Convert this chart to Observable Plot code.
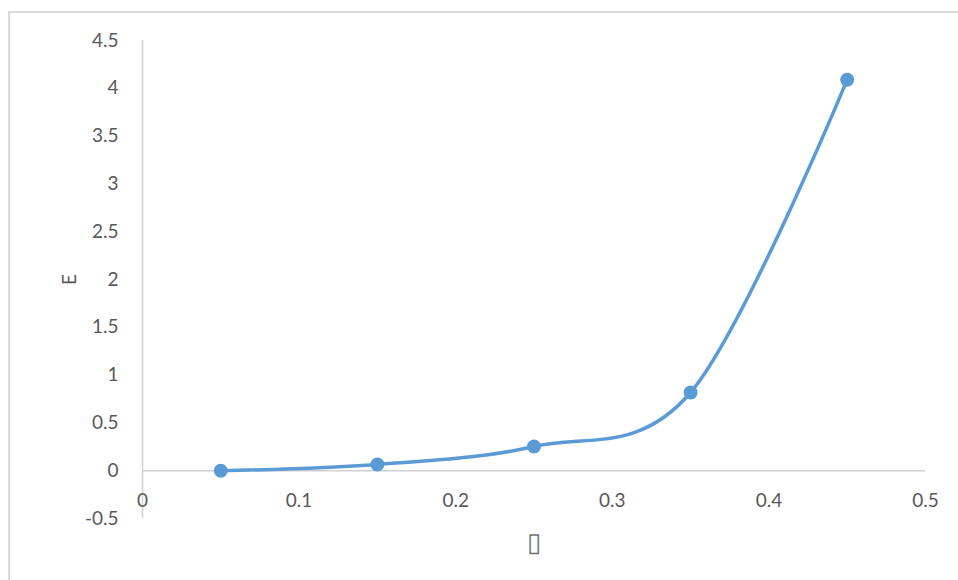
<!DOCTYPE html>
<html>
<head>
<meta charset="utf-8">
<script src="https://cdn.jsdelivr.net/npm/d3@7"></script>
<script src="https://cdn.jsdelivr.net/npm/@observablehq/plot@0.6"></script>
<style>
  html, body { margin: 0; padding: 0; background: #fff; overflow: hidden; }
  #wrap { position: relative; width: 958px; height: 580px; }
  #border { position: absolute; left: 8px; top: 11px; width: 1000px; height: 1000px;
            border: 2px solid #d9d9d9; box-sizing: border-box; pointer-events: none; }
</style>
</head>
<body>
<div id="wrap"><div id="border"></div></div>
<script>
const xValues = [0.05, 0.15, 0.25, 0.35, 0.45];
const eValues = [0.0, 0.065, 0.253, 0.818, 4.09];
const xTicks = [0, 0.1, 0.2, 0.3, 0.4, 0.5];
const yTicks = [-0.5, 0, 0.5, 1, 1.5, 2, 2.5, 3, 3.5, 4, 4.5];
const xLabel = "▯";
const yLabel = "E";

const data = xValues.map((x, i) => ({x, e: eValues[i]}));
const blue = "#5b9bd5";
const axisGray = "#d0d0d0";
const textGray = "#595959";

const chart = Plot.plot({
  width: 958,
  height: 580,
  marginLeft: 142,
  marginRight: 33,
  marginTop: 40,
  marginBottom: 62,
  style: {fontFamily: "Lato, 'Open Sans', sans-serif", fontSize: "19px", color: textGray, background: "transparent"},
  x: {domain: [0, 0.5]},
  y: {domain: [-0.5, 4.5]},
  marks: [
    Plot.ruleX([0], {y1: -0.5, y2: 4.5, stroke: axisGray, strokeWidth: 1.5}),
    Plot.ruleY([0], {x1: 0, x2: 0.5, stroke: axisGray, strokeWidth: 1.5}),
    Plot.axisY({ticks: yTicks, tickSize: 0, tickPadding: 24, tickFormat: d => String(d),
      label: yLabel, labelAnchor: "center", labelArrow: "none", labelOffset: 80, fill: textGray}),
    Plot.text(xTicks, {x: d => d, y: 0, dy: 30, text: d => String(d), fill: textGray, fontSize: 19}),
    Plot.axisX({ticks: [], tickSize: 0, label: xLabel, labelAnchor: "center", labelArrow: "none", labelOffset: 32, fill: "#707070", fontSize: 26}),
    Plot.line(data, {x: "x", y: "e", curve: "cardinal", stroke: blue, strokeWidth: 3.5}),
    Plot.dot(data, {x: "x", y: "e", r: 7, fill: blue, stroke: "none"})
  ]
});
document.getElementById("wrap").prepend(chart);
</script>
</body>
</html>
